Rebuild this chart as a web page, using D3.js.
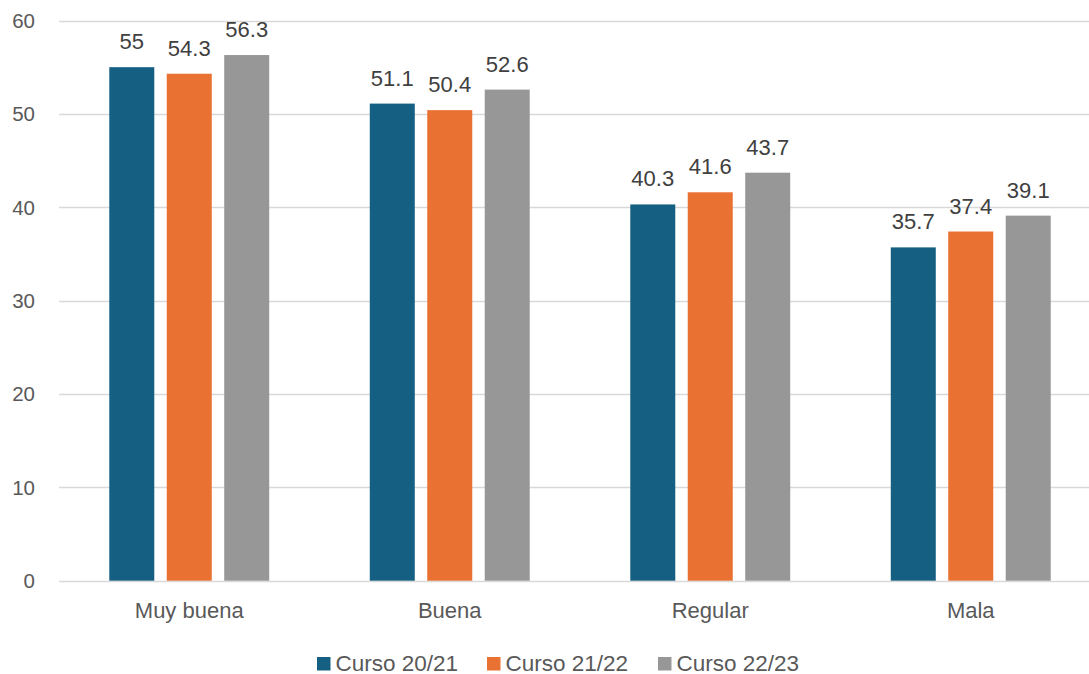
<!DOCTYPE html>
<html>
<head>
<meta charset="utf-8">
<script src="https://cdn.jsdelivr.net/npm/d3@7"></script>
<style>
  body { margin: 0; background: #fff; }
  svg { display: block; font-family: "Liberation Sans", Arial, sans-serif; }
</style>
</head>
<body>
<div id="chart"></div>
<script>
// Categories and series
var categories = ["Muy buena", "Buena", "Regular", "Mala"];
var seriesNames = ["Curso 20/21", "Curso 21/22", "Curso 22/23"];
var curso2021 = [55, 51.1, 40.3, 35.7];
var curso2122 = [54.3, 50.4, 41.6, 37.4];
var curso2223 = [56.3, 52.6, 43.7, 39.1];
var yTicks = [0, 10, 20, 30, 40, 50, 60];

var seriesValues = [curso2021, curso2122, curso2223];
var colors = ["#156082", "#E97132", "#979797"];

var width = 1089, height = 674;

var svg = d3.select("#chart").append("svg")
    .attr("width", width)
    .attr("height", height);

// Scales
var x0 = d3.scaleBand()
    .domain(categories)
    .range([59, 1101])
    .paddingInner(0.386)
    .paddingOuter(0.193);

var x1 = d3.scaleBand()
    .domain(seriesNames)
    .range([0, x0.bandwidth()])
    .paddingInner(0.217);

var y = d3.scaleLinear()
    .domain([0, 60])
    .range([580.7, 20.5]);

// Gridlines
svg.append("g")
    .selectAll("line")
    .data(yTicks)
    .enter().append("line")
        .attr("x1", 59)
        .attr("x2", 1101)
        .attr("y1", function(d) { return Math.round(y(d)) + 0.5; })
        .attr("y2", function(d) { return Math.round(y(d)) + 0.5; })
        .attr("stroke", "#d9d9d9")
        .attr("stroke-width", 1.5);

// Y tick labels
svg.append("g")
    .selectAll("text")
    .data(yTicks)
    .enter().append("text")
        .attr("x", 35)
        .attr("y", function(d) { return y(d); })
        .attr("dy", "0.36em")
        .attr("text-anchor", "end")
        .attr("font-size", 20.5)
        .attr("fill", "#595959")
        .text(function(d) { return d; });

// Bars
var groups = svg.append("g")
    .selectAll("g")
    .data(categories)
    .enter().append("g")
        .attr("transform", function(d) { return "translate(" + x0(d) + ",0)"; });

var cells = groups.selectAll("g")
    .data(function(d, i) {
        return seriesNames.map(function(s, j) {
            return { series: s, idx: j, value: seriesValues[j][i] };
        });
    })
    .enter().append("g");

cells.append("rect")
    .attr("x", function(d) { return x1(d.series); })
    .attr("y", function(d) { return y(d.value); })
    .attr("width", x1.bandwidth())
    .attr("height", function(d) { return y(0) - y(d.value); })
    .attr("fill", function(d) { return colors[d.idx]; });

// Data labels
cells.append("text")
    .attr("x", function(d) { return x1(d.series) + x1.bandwidth() / 2; })
    .attr("y", function(d) { return y(d.value) - 18; })
    .attr("text-anchor", "middle")
    .attr("font-size", 22)
    .attr("fill", "#404040")
    .text(function(d) { return d.value; });

// Category labels
svg.append("g")
    .selectAll("text")
    .data(categories)
    .enter().append("text")
        .attr("x", function(d) { return x0(d) + x0.bandwidth() / 2; })
        .attr("y", 618)
        .attr("text-anchor", "middle")
        .attr("font-size", 22)
        .attr("fill", "#595959")
        .text(function(d) { return d; });

// Legend
var legendX = [317, 487, 658];
var legend = svg.append("g")
    .selectAll("g")
    .data(seriesNames)
    .enter().append("g")
        .attr("transform", function(d, i) { return "translate(" + legendX[i] + ",657)"; });

legend.append("rect")
    .attr("width", 13.5)
    .attr("height", 13.5)
    .attr("fill", function(d, i) { return colors[i]; });

legend.append("text")
    .attr("x", 18.5)
    .attr("y", 13.5)
    .attr("font-size", 22.5)
    .attr("fill", "#595959")
    .text(function(d) { return d; });
</script>
</body>
</html>
